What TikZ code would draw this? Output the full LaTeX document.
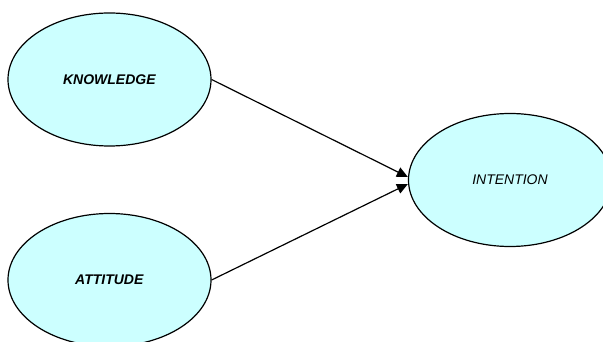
\documentclass[tikz,border=0pt]{standalone}
\usepackage{fontspec}
\setmainfont{Liberation Sans}
\usetikzlibrary{shapes.geometric,arrows.meta}
\definecolor{bubble}{HTML}{CCFFFF}
\begin{document}
\begin{tikzpicture}[x=1pt,y=-1pt,
  construct/.style={ellipse,draw=black,line width=1.2pt,fill=bubble,
    minimum width=203pt,minimum height=133pt,inner sep=0pt,font=\fontsize{14}{16}\selectfont},
  link/.style={line width=1.2pt,-{Triangle[length=11pt,width=10pt]}}]
\useasboundingbox (0,0) rectangle (603,342);
\begin{scope}
\clip (0,0) rectangle (603,342);
\node[construct] (know) at (109.5,79.5) {\textbf{\textit{KNOWLEDGE}}};
\node[construct] (att) at (109.5,280) {\textbf{\textit{ATTITUDE}}};
\node[construct] (int) at (510,180) {\textit{INTENTION}};
\end{scope}
\draw[link] (know.east) -- ([yshift=3pt]int.west);
\draw[link] (att.east) -- ([yshift=-4pt]int.west);
\end{tikzpicture}
\end{document}
